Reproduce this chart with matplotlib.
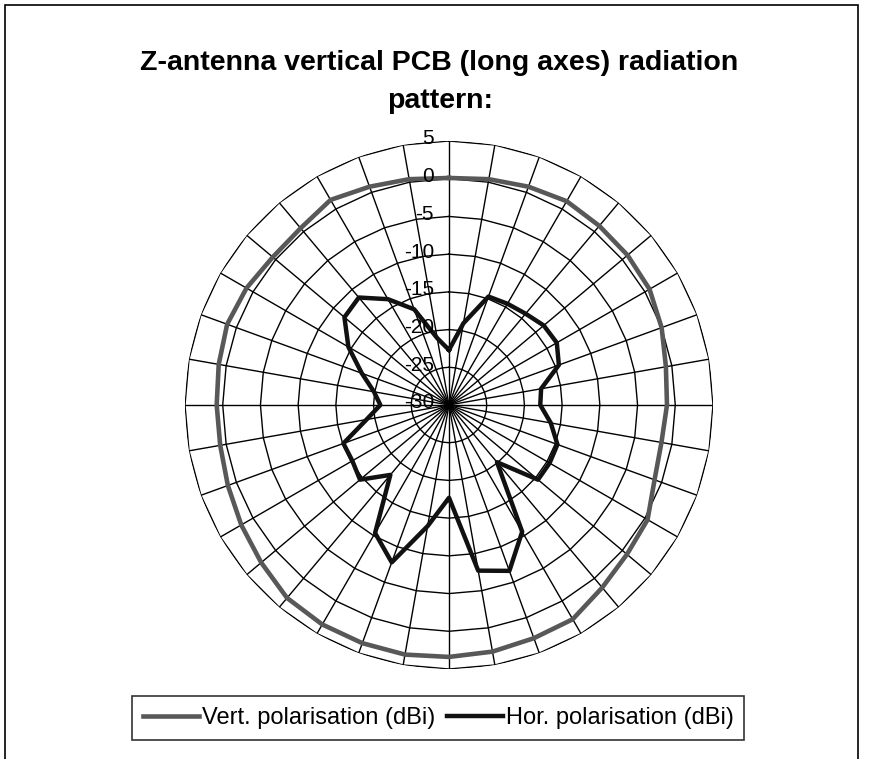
import matplotlib.pyplot as plt
import matplotlib.transforms as mtransforms
from matplotlib.patches import Rectangle
import numpy as np

# angles in degrees, clockwise from top (36 categories)
angles = list(range(0, 360, 10))

vert_pol = [0.1, 0.4, 0.8, 1.2, 1.0, 0.9, 0.7, 0.0, -0.8, -1.1,
            -1.4, -1.0, 0.4, 0.8, 1.6, 2.8, 2.9, 3.2, 3.4, 3.6,
            3.6, 3.6, 3.4, 2.5, 1.8, 1.2, 0.8, 0.8, 1.0, 1.3,
            1.0, 0.5, 0.6, 1.4, 0.8, 0.4]

hor_pol = [-22.7, -19.0, -14.7, -14.5, -14.2, -13.6, -13.5, -14.5, -17.6, -17.9,
           -16.3, -14.7, -14.6, -14.6, -20.1, -10.6, -6.6, -7.7, -17.7, -13.7,
           -7.8, -10.4, -17.9, -14.6, -15.2, -15.1, -18.9, -20.9, -19.9, -17.7,
           -14.6, -11.9, -11.4, -13.8, -16.5, -21.0]

r_ticks = [5, 0, -5, -10, -15, -20, -25, -30]
r_min, r_max = -30, 5

title = "Z-antenna vertical PCB (long axes) radiation\npattern:"
labels = ["Vert. polarisation (dBi)", "Hor. polarisation (dBi)"]

plt.rcParams['font.family'] = ['Liberation Sans', 'DejaVu Sans']

W, H = 874, 759
fig = plt.figure(figsize=(W / 100, H / 100), dpi=100)

# outer chart frame
fig.patches.append(Rectangle((5 / W, -0.05), 853 / W, 1.05 - 5 / H, transform=fig.transFigure,
                             fill=False, edgecolor='black', linewidth=1.2))

cx, cy, rad = 449, 405, 264
ax = fig.add_axes([(cx - rad) / W, (H - cy - rad) / H, 2 * rad / W, 2 * rad / H], projection='polar')
ax.set_theta_zero_location('N')
ax.set_theta_direction(-1)
ax.set_rlim(r_min, r_max)
ax.grid(False)
ax.set_xticks([])
ax.set_yticks([])
ax.spines['polar'].set_visible(False)
ax.patch.set_alpha(0)

theta = np.deg2rad(angles)
theta_closed = np.append(theta, theta[0])

# polygon gridlines and spokes
for lvl in r_ticks[:-1]:
    ax.plot(theta_closed, [lvl] * len(theta_closed), color='black', lw=1.0, zorder=1)
for t in theta:
    ax.plot([t, t], [r_min, r_max], color='black', lw=1.0, zorder=1)

ax.plot(theta_closed, vert_pol + vert_pol[:1], color='#585858', lw=3.3, label=labels[0], zorder=3)
ax.plot(theta_closed, hor_pol + hor_pol[:1], color='#111111', lw=3.2, label=labels[1], zorder=4)

# value axis labels along the top spoke
lab_tr = mtransforms.offset_copy(ax.transData, fig=fig, x=-15, y=2, units='dots')
for v in r_ticks:
    ax.text(0, v, str(v), transform=lab_tr, ha='right', va='center', fontsize=15, zorder=5)

fig.text(0.503, 1 - 82 / H, title, ha='center', va='center', fontsize=20.5,
         fontweight='bold', linespacing=1.6)

leg = fig.legend(loc='center', bbox_to_anchor=(438 / W, 1 - 718 / H), ncol=2,
                 fontsize=17, frameon=True, fancybox=False, edgecolor='black',
                 handlelength=2.4, handletextpad=0.1, columnspacing=0.5,
                 borderpad=0.45, borderaxespad=0)
leg.get_frame().set_linewidth(1.2)

fig.savefig('out.png', dpi=100, facecolor='white')
